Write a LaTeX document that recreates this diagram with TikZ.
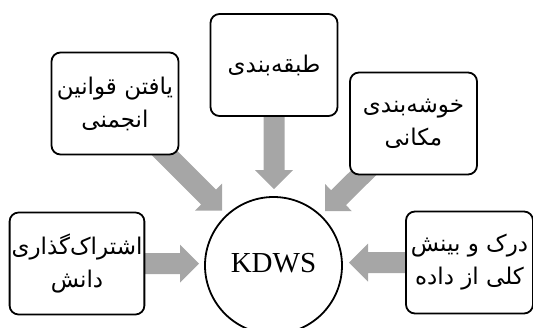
\documentclass[tikz,border=0pt]{standalone}
\usepackage{fontspec}
\newfontfamily\arabicfont[Script=Arabic]{DejaVu Sans}
\newfontfamily\latinserif{Liberation Serif}
\TeXXeTstate=1
\usetikzlibrary{calc,backgrounds}
\definecolor{arrowgray}{HTML}{A6A6A6}
\newcommand\blockarrow[2]{%
  \coordinate (ba) at ($(#2)!19pt!(#1)$);
  \fill[arrowgray] ($(#1)!10.5pt!90:(#2)$) -- ($(ba)!10.5pt!90:(#2)$) -- ($(ba)!19pt!90:(#2)$) -- (#2)
    -- ($(ba)!19pt!-90:(#2)$) -- ($(ba)!10.5pt!-90:(#2)$) -- ($(#1)!10.5pt!-90:(#2)$) -- cycle;}
\tikzset{
  box/.style={draw=black, line width=1.8pt, fill=white, rounded corners=9pt,
    minimum width=127pt, minimum height=102pt, inner sep=2pt, align=center,
    font=\arabicfont\fontsize{23}{33}\selectfont},
  hub/.style={draw=black, line width=1.8pt, fill=white, circle, minimum size=137pt, inner sep=0pt,
    font=\latinserif\fontsize{29}{34}\selectfont}
}
\begin{document}
\begin{tikzpicture}[x=1pt,y=-1pt]
\useasboundingbox (0,0) rectangle (533,327);
\node[hub] (c) at (273.5,265.5) {\raisebox{0pt}[\height][6pt]{KDWS}};
\node[box] (tl) at (115,103.5) {\beginR یافتن قوانین\endR\\\beginR انجمنی\endR};
\node[box] (top) at (274,65) {\beginR طبقه^^^^200cبندی\endR};
\node[box] (tr) at (413.5,123.5) {\beginR خوشه^^^^200cبندی\endR\\\beginR مکانی\endR};
\node[box] (l) at (77,263.5) {\beginR اشتراک^^^^200cگذاری\endR\\\beginR دانش\endR};
\node[box] (r) at (469.5,262.5) {\beginR درک و بینش\endR\\\beginR کلی از داده\endR};
\coordinate (tipL) at (199,263.5);
\coordinate (tipR) at (349,262.5);
\coordinate (tipT) at (274,189);
\coordinate (tipTL) at (222,210.5);
\coordinate (tipTR) at (325,211);
\begin{scope}[on background layer]
\blockarrow{l.center}{tipL}
\blockarrow{r.center}{tipR}
\blockarrow{top.center}{tipT}
\blockarrow{tl.center}{tipTL}
\blockarrow{tr.center}{tipTR}
\end{scope}
\end{tikzpicture}
\end{document}
